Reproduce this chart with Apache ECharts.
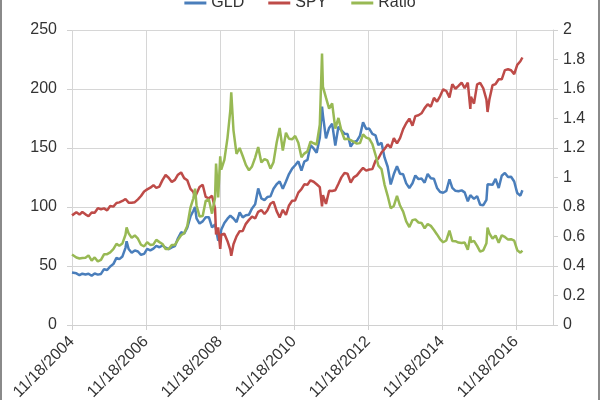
<!DOCTYPE html>
<html>
<head>
<meta charset="utf-8">
<script src="https://cdn.jsdelivr.net/npm/echarts@6/dist/echarts.min.js"></script>
<style>
html,body{margin:0;padding:0;background:#fff;}
#c{width:600px;height:400px;box-sizing:border-box;border-left:2px solid #8a8a8a;border-right:2px solid #8a8a8a;}
</style>
</head>
<body>
<div id="c"></div>
<script>
var dates = ['2004-11-18','2004-12-31','2005-01-31','2005-02-28','2005-03-31','2005-04-30','2005-05-31','2005-06-30','2005-07-31','2005-08-31','2005-09-30','2005-10-31','2005-11-30','2005-12-31',
'2006-01-31','2006-02-28','2006-03-31','2006-04-30','2006-05-11','2006-05-31','2006-06-30','2006-07-31','2006-08-31','2006-09-30','2006-10-31','2006-11-30','2006-12-31',
'2007-01-31','2007-02-28','2007-03-31','2007-04-30','2007-05-31','2007-06-30','2007-07-31','2007-08-31','2007-09-30','2007-10-31','2007-11-30','2007-12-31',
'2008-01-31','2008-02-29','2008-03-17','2008-03-31','2008-04-30','2008-05-31','2008-06-30','2008-07-31','2008-08-31','2008-09-30','2008-10-10','2008-10-31','2008-11-20','2008-11-30','2008-12-31',
'2009-01-31','2009-02-28','2009-03-09','2009-03-31','2009-04-30','2009-05-31','2009-06-30','2009-07-31','2009-08-31','2009-09-30','2009-10-31','2009-11-30','2009-12-31',
'2010-01-31','2010-02-28','2010-03-31','2010-04-30','2010-05-31','2010-06-30','2010-07-31','2010-08-31','2010-09-30','2010-10-31','2010-11-30','2010-12-31',
'2011-01-31','2011-02-28','2011-03-31','2011-04-30','2011-05-31','2011-06-30','2011-07-31','2011-08-22','2011-08-31','2011-09-30','2011-10-31','2011-11-30','2011-12-31',
'2012-01-31','2012-02-29','2012-03-31','2012-04-30','2012-05-31','2012-06-30','2012-07-31','2012-08-31','2012-09-30','2012-10-31','2012-11-30','2012-12-31',
'2013-01-31','2013-02-28','2013-03-31','2013-04-30','2013-05-31','2013-06-30','2013-07-31','2013-08-31','2013-09-30','2013-10-31','2013-11-30','2013-12-31',
'2014-01-31','2014-02-28','2014-03-31','2014-04-30','2014-05-31','2014-06-30','2014-07-31','2014-08-31','2014-09-30','2014-10-31','2014-11-30','2014-12-31',
'2015-01-31','2015-02-28','2015-03-31','2015-04-30','2015-05-31','2015-06-30','2015-07-31','2015-08-25','2015-08-31','2015-09-30','2015-10-31','2015-11-30','2015-12-31',
'2016-01-31','2016-02-11','2016-02-29','2016-03-31','2016-04-30','2016-05-31','2016-06-30','2016-07-31','2016-08-31','2016-09-30','2016-10-31','2016-11-30','2016-12-31','2017-01-20'];

var gld = [44.4,43.8,42.2,43.5,42.8,43.5,41.7,43.6,42.7,43.3,47.3,46.6,49.6,51.6,
56.9,55.8,58.1,65.4,71.0,64.4,61.2,63.2,62.3,59.5,60.3,64.5,63.2,
64.7,67.0,65.9,67.4,65.5,64.3,65.8,66.8,73.5,78.6,77.5,82.5,
91.9,96.8,100.0,90.4,86.0,87.8,91.4,91.4,82.8,85.2,84.0,71.5,73.7,80.7,86.5,
90.1,92.6,92.4,90.3,87.1,95.4,91.2,93.0,93.5,98.8,102.4,115.7,107.3,
105.9,108.4,109.0,115.4,119.3,121.7,115.5,121.6,127.9,132.6,135.4,138.7,
130.9,138.5,139.9,152.4,149.6,146.0,158.6,185.0,177.7,158.1,167.0,170.6,152.0,
168.1,164.9,162.1,161.9,151.2,155.2,156.0,160.5,171.9,166.1,166.5,162.0,
160.7,152.5,154.5,142.0,134.1,119.1,127.9,134.6,128.2,127.7,120.0,116.1,
120.1,126.7,123.6,124.2,120.6,128.0,124.3,123.9,116.2,112.7,112.1,113.6,
123.5,116.2,113.7,113.3,114.1,112.4,104.8,110.0,108.9,106.9,109.2,101.9,101.5,
106.1,119.3,118.6,118.8,123.8,116.1,126.5,128.9,125.5,125.6,121.6,111.8,109.6,114.2];

var spy = [92.9,95.6,93.6,95.8,93.8,92.2,95.4,95.2,99.0,98.1,98.8,97.1,100.9,100.3,
103.4,103.9,105.1,106.8,107.3,103.7,103.6,104.1,106.5,109.3,113.2,114.9,116.4,
118.5,116.2,117.3,122.8,127.1,124.8,121.2,123.0,127.4,129.3,124.5,122.7,
115.4,112.7,108.2,111.3,116.9,118.8,108.5,107.3,109.6,98.8,76.8,82.7,64.4,76.6,77.3,
71.0,63.6,58.6,68.4,75.1,79.5,79.6,85.7,89.1,91.9,90.2,95.9,97.4,
94.1,97.1,102.8,104.5,96.5,91.1,97.6,93.3,101.3,105.3,105.6,112.2,
115.1,119.2,118.9,122.6,121.4,119.3,116.8,100.5,110.1,102.6,113.8,113.5,114.2,
119.7,125.1,128.8,128.2,120.7,125.1,126.8,130.2,133.1,130.8,131.8,132.1,
139.2,141.1,146.2,149.2,153.0,150.3,158.4,153.9,158.3,166.0,171.0,174.9,
168.9,177.0,177.8,179.4,183.8,187.1,185.0,192.5,189.3,194.0,199.7,198.3,
192.9,204.0,200.2,202.7,205.4,200.8,205.4,183.2,193.4,187.6,203.9,205.1,200.6,
191.0,180.5,191.1,203.2,204.2,208.3,208.2,216.0,216.7,215.9,212.6,220.4,223.5,226.7];

var ratio = [0.478,0.458,0.451,0.454,0.456,0.472,0.437,0.458,0.431,0.441,0.479,0.480,0.492,0.514,
0.550,0.537,0.553,0.612,0.662,0.621,0.591,0.607,0.585,0.544,0.533,0.561,0.543,
0.546,0.577,0.562,0.549,0.515,0.515,0.543,0.543,0.577,0.608,0.622,0.672,
0.796,0.859,0.924,0.812,0.736,0.739,0.842,0.852,0.755,0.862,1.094,0.865,1.144,1.054,1.119,
1.269,1.456,1.577,1.320,1.160,1.200,1.146,1.085,1.049,1.075,1.135,1.206,1.102,
1.125,1.116,1.060,1.104,1.236,1.336,1.183,1.303,1.263,1.259,1.282,1.236,
1.137,1.162,1.177,1.243,1.232,1.224,1.358,1.841,1.614,1.541,1.467,1.503,1.331,
1.404,1.318,1.259,1.263,1.253,1.241,1.230,1.233,1.292,1.270,1.263,1.226,
1.154,1.081,1.057,0.952,0.876,0.792,0.807,0.875,0.810,0.769,0.702,0.664,
0.711,0.716,0.695,0.692,0.656,0.684,0.672,0.644,0.614,0.581,0.561,0.573,
0.640,0.570,0.568,0.559,0.556,0.560,0.510,0.600,0.563,0.570,0.536,0.497,0.506,
0.555,0.661,0.621,0.585,0.606,0.557,0.608,0.597,0.579,0.582,0.572,0.507,0.490,0.504];

var xTickLabels = ['11/18/2004','11/18/2006','11/18/2008','11/18/2010','11/18/2012','11/18/2014','11/18/2016'];
var seriesNames = ['GLD','SPY','Ratio'];

var DAY = 864e5;
var xMin = Date.parse('2004-11-18');
var xMax = Date.parse('2017-11-18');
var xStep = 730.5 * DAY;

function pairs(vals){
  return dates.map(function(d,i){ return [Date.parse(d), vals[i]]; });
}

var font = 'Liberation Sans, Arial, sans-serif';
var chart = echarts.init(document.getElementById('c'), null, {renderer:'canvas'});
chart.setOption({
  animation:false,
  color:['#4a7ebb','#be4b48','#98b954'],
  legend:{
    top:-10, left:'center', itemWidth:22, itemHeight:3, itemGap:24, icon:'rect',
    data:seriesNames,
    textStyle:{fontFamily:font, fontSize:16, color:'#333333'}
  },
  grid:{left:70, right:45, top:30, bottom:75, containLabel:false, outerBoundsMode:'none'},
  xAxis:{
    type:'value', min:xMin, max:xMax, interval:xStep,
    axisLine:{show:true, lineStyle:{color:'#d0d0d0', width:1}},
    axisTick:{show:true, length:5, lineStyle:{color:'#d0d0d0'}},
    splitLine:{show:true, showMaxLine:false, lineStyle:{color:'#d6d6d6', width:1}},
    axisLabel:{
      rotate:45, margin:14, showMaxLabel:false, fontFamily:font, fontSize:16, color:'#333333',
      formatter:function(v){ var i = Math.round((v - xMin)/xStep); return xTickLabels[i] || ''; }
    }
  },
  yAxis:[{
    type:'value', min:0, max:250, interval:50,
    axisLine:{show:false},
    axisTick:{show:true, length:5, lineStyle:{color:'#d0d0d0'}},
    splitLine:{show:true, lineStyle:{color:'#d6d6d6', width:1}},
    axisLabel:{margin:15, fontFamily:font, fontSize:16, color:'#333333'}
  },{
    type:'value', min:0, max:2, interval:0.2,
    axisLine:{show:true, lineStyle:{color:'#d0d0d0', width:1}},
    axisTick:{show:true, length:5, lineStyle:{color:'#d0d0d0'}},
    splitLine:{show:false},
    axisLabel:{margin:10, fontFamily:font, fontSize:16, color:'#333333',
      formatter:function(v){ return String(Math.round(v*10)/10); }}
  }],
  series:[
    {name:'GLD', type:'line', yAxisIndex:0, showSymbol:false, data:pairs(gld), lineStyle:{width:2.5}},
    {name:'SPY', type:'line', yAxisIndex:0, showSymbol:false, data:pairs(spy), lineStyle:{width:2.5}},
    {name:'Ratio', type:'line', yAxisIndex:1, showSymbol:false, data:pairs(ratio), lineStyle:{width:2.5}}
  ]
});
</script>
</body>
</html>
